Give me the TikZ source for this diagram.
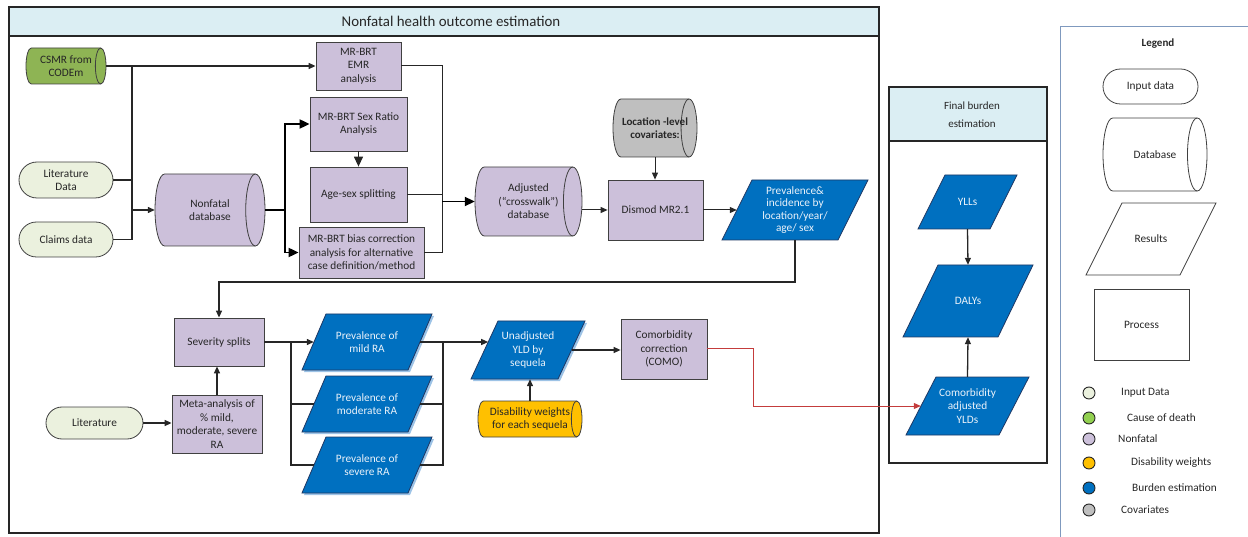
\documentclass[tikz,border=0pt]{standalone}
\usepackage{fontspec}
\setmainfont{Carlito}
\usetikzlibrary{arrows.meta,shapes.misc,calc}

\definecolor{hdr}{RGB}{219,238,243}
\definecolor{nonf}{RGB}{204,192,218}
\definecolor{inp}{RGB}{235,241,222}
\definecolor{csmrg}{RGB}{142,180,84}
\definecolor{legg}{RGB}{146,208,80}
\definecolor{burden}{RGB}{0,112,192}
\definecolor{dwc}{RGB}{255,192,0}
\definecolor{cov}{RGB}{191,191,191}
\definecolor{edgec}{RGB}{64,64,64}
\definecolor{redl}{RGB}{196,60,60}
\definecolor{shadowblue}{RGB}{157,195,230}
\definecolor{legframe}{RGB}{127,153,190}
\definecolor{navy}{RGB}{31,56,100}
\definecolor{txtc}{RGB}{38,38,38}
\definecolor{bluetext}{RGB}{235,242,250}

\tikzset{
  txt/.style={inner sep=0pt, align=center, text=txtc, font=\fontsize{11.3}{13.5}\selectfont},
  boldtxt/.style={font=\fontsize{11}{13.5}\selectfont\bfseries},
  bluetxt/.style={text=bluetext},
  shapeline/.style={draw=edgec, line width=0.8pt},
  proc/.style={txt, rectangle, draw=edgec, fill=nonf, line width=0.8pt},
  pill/.style={txt, rounded rectangle, draw=edgec, fill=inp, line width=0.8pt},
  blueshape/.style={fill=burden, draw=navy, line width=0.8pt},
  whiteshape/.style={fill=white, draw=edgec, line width=0.8pt},
  bshadow/.style={preaction={fill=shadowblue, draw=none, transform canvas={shift={(2pt,-2pt)}}}},
  frame/.style={draw=black!85, line width=1.1pt},
  conn/.style={draw=black!85, line width=1.3pt},
  thinc/.style={draw=black!85, line width=1pt},
  thickc/.style={draw=black, line width=1.9pt},
  redc/.style={draw=redl, line width=1pt},
  arr/.style={-{Triangle[length=7pt,width=6pt]}},
  bigarr/.style={-{Triangle[length=10pt,width=9pt]}},
  legdot/.style={circle, draw=black!85, line width=0.9pt, minimum size=12pt, inner sep=0pt},
  leglab/.style={txt, anchor=west},
}

% process box: [style]{name}{x0}{y0}{x1}{y1}{text}
\newcommand{\procnode}[7][]{%
  \pgfmathsetmacro{\pnW}{#5-#3}\pgfmathsetmacro{\pnH}{#6-#4}%
  \node[proc,#1,minimum width=\pnW pt,minimum height=\pnH pt] (#2) at ({(#3+#5)/2},{(#4+#6)/2}) {#7};}
% pill: [style]{name}{x0}{y0}{x1}{y1}{text}
\newcommand{\pillnode}[7][]{%
  \pgfmathsetmacro{\plW}{#5-#3}\pgfmathsetmacro{\plH}{#6-#4}%
  \node[pill,#1,minimum width=\plW pt,minimum height=\plH pt] (#2) at ({(#3+#5)/2},{(#4+#6)/2}) {#7};}
% cylinder: {name}{x0}{y0}{x1}{y1}{fill}{text style}{text}
\newcommand{\cylnode}[8]{%
  \pgfmathsetmacro{\cylH}{(#5-#3)/2}%
  \pgfmathsetmacro{\cylR}{0.12*(#5-#3)+1}%
  \pgfmathsetmacro{\cylA}{#2+\cylR}%
  \pgfmathsetmacro{\cylB}{#4-\cylR}%
  \pgfmathsetmacro{\cylW}{#4-#2}%
  \pgfmathsetmacro{\cylHH}{#5-#3}%
  \filldraw[shapeline, fill=#6] (\cylA,#3) -- (\cylB,#3)
     arc[start angle=90,end angle=-90,x radius=\cylR pt,y radius=\cylH pt]
     -- (\cylA,#5)
     arc[start angle=270,end angle=90,x radius=\cylR pt,y radius=\cylH pt] -- cycle;
  \draw[shapeline] (\cylB,#3) arc[start angle=90,end angle=270,x radius=\cylR pt,y radius=\cylH pt];
  \node[txt,#7,minimum width=\cylW pt,minimum height=\cylHH pt] (#1) at ({(#2+#4)/2},{(#3+#5)/2}) {#8};}
% parallelogram: {name}{x0}{y0}{x1}{y1}{slant}{shape style}{text style}{text}
\newcommand{\paranode}[9]{%
  \pgfmathsetmacro{\parA}{#2+#6}%
  \pgfmathsetmacro{\parB}{#4-#6}%
  \pgfmathsetmacro{\parW}{#4-#2-#6}%
  \pgfmathsetmacro{\parH}{#5-#3}%
  \filldraw[#7] (\parA,#3) -- (#4,#3) -- (\parB,#5) -- (#2,#5) -- cycle;
  \node[txt,#8,minimum width=\parW pt,minimum height=\parH pt] (#1) at ({(#2+#4)/2},{(#3+#5)/2}) {#9};}

\begin{document}
\begin{tikzpicture}[x=1pt,y=-1pt]
\useasboundingbox (0,0) rectangle (1248,537);

% ---------- frames ----------
\draw[frame, fill=hdr] (9,7) rectangle (879,36);
\draw[frame] (9,7) rectangle (879,533);
\node[txt, font=\fontsize{14.9}{17}\selectfont] (title) at (451,21.5) {Nonfatal health outcome estimation};

\draw[frame, fill=hdr] (889,87) rectangle (1047,141);
\draw[frame] (889,87) rectangle (1047,463);
\node[txt, font=\fontsize{11}{18}\selectfont] (fbtitle) at (972,115) {Final burden\\estimation};

\draw[draw=legframe, line width=1pt] (1060,537) -- (1060,27) -- (1248,27);

% ---------- upper part ----------
\cylnode{csmr}{26}{48}{106}{84}{csmrg}{}{CSMR from\\CODEm}
\pillnode{litdata}{19}{162}{113}{198}{Literature\\Data}
\pillnode{claims}{19}{222}{113}{257}{Claims data}
\cylnode{nonfatal}{155}{174}{265}{246}{nonf}{}{Nonfatal\\database}

\procnode{emr}{316}{42}{401}{90}{MR-BRT\\EMR\\analysis}
\procnode{sexratio}{310}{97}{407}{151}{MR-BRT Sex Ratio\\Analysis}
\procnode{agesex}{310}{167}{407}{222}{Age-sex splitting}
\procnode{bias}{299}{227}{424}{278}{MR-BRT bias correction\\analysis for alternative\\case definition/method}

\cylnode{adjusted}{475}{167}{582}{236}{nonf}{}{Adjusted\\(“crosswalk”)\\database}
\cylnode{location}{613}{99}{697}{157}{cov}{boldtxt}{Location -level\\covariates:}
\procnode{dismod}{608}{180}{703}{240}{Dismod MR2.1}
\paranode{prev}{722}{180}{868}{240}{30}{blueshape}{bluetxt,font=\fontsize{11.3}{12.5}\selectfont}{Prevalence\&\\incidence by\\location/year/\\age/ sex}

% ---------- lower part ----------
\procnode{severity}{174}{318}{264}{366}{Severity splits}
\procnode{meta}{172}{395}{262}{453}{Meta-analysis of\\\% mild,\\moderate, severe\\RA}
\pillnode{lit}{46}{407}{143}{439}{Literature}

\paranode{mild}{302}{314}{432}{370}{24}{blueshape,bshadow}{bluetxt}{Prevalence of\\mild RA}
\paranode{moderate}{302}{376}{432}{432}{24}{blueshape,bshadow}{bluetxt}{Prevalence of\\moderate RA}
\paranode{severe}{302}{437}{432}{493}{24}{blueshape,bshadow}{bluetxt}{Prevalence of\\severe RA}
\paranode{yld}{471}{321}{585}{379}{27}{blueshape,bshadow}{bluetxt}{Unadjusted\\YLD by\\sequela}
\cylnode{dw}{478}{401}{582}{437}{dwc}{}{Disability weights\\for each sequela}
\procnode{como}{621}{319}{707}{379}{Comorbidity\\correction\\(COMO)}

% ---------- final burden ----------
\paranode{ylls}{918}{175}{1017}{229}{27}{blueshape}{bluetxt}{YLLs}
\paranode{dalys}{903}{265}{1033}{337}{35}{blueshape}{bluetxt}{DALYs}
\paranode{cay}{906}{377}{1029}{435}{30}{blueshape}{bluetxt}{Comorbidity\\adjusted\\YLDs}

% ---------- legend ----------
\node[txt, boldtxt] (legtitle) at (1158,44) {Legend};
\pillnode[fill=white]{legin}{1103}{69}{1198}{104}{Input data}
\cylnode{legdb}{1103}{118}{1207}{191}{white}{}{Database}
\paranode{legres}{1086}{203}{1216}{275}{36}{whiteshape}{}{Results}
\procnode[fill=white]{legproc}{1094}{289}{1189}{360}{Process}

\node[legdot, fill=inp] (d1) at (1089,393) {};
\node[legdot, fill=legg] (d2) at (1089,418) {};
\node[legdot, fill=nonf] (d3) at (1089,439) {};
\node[legdot, fill=dwc] (d4) at (1089,463) {};
\node[legdot, fill=burden] (d5) at (1089,488) {};
\node[legdot, fill=cov] (d6) at (1089,510) {};
\node[leglab] (l1) at (1121,393) {Input Data};
\node[leglab] (l2) at (1127,418) {Cause of death};
\node[leglab] (l3) at (1118,439) {Nonfatal};
\node[leglab] (l4) at (1131,463) {Disability weights};
\node[leglab] (l5) at (1132,488) {Burden estimation};
\node[leglab] (l6) at (1121,510) {Covariates};

% ---------- connectors ----------
\coordinate (b1) at (132,0);
\draw[conn,arr] (csmr.east) -- (emr.west);
\draw[conn, line width=1.7pt] (b1 |- csmr.east) -- (b1 |- claims.east) -- (claims.east);
\draw[conn] (litdata.east) -- (b1 |- litdata.east);
\draw[conn,arr] (b1 |- nonfatal.west) -- (nonfatal.west);

\coordinate (b2) at (285,0);
\draw[thickc] (nonfatal.east) -- (b2 |- nonfatal.east);
\draw[thickc,bigarr] (b2 |- nonfatal.east) |- (sexratio.west);
\draw[thickc,bigarr] (b2 |- nonfatal.east) |- (bias.west);
\draw[conn,bigarr] (sexratio.south) -- (agesex.north);

\coordinate (b3) at (442,0);
\draw[thinc] (emr.east) -| (b3 |- adjusted.west);
\draw[thinc] (agesex.east) -- (b3 |- agesex.east);
\draw[thinc] (bias.east) -| (b3 |- adjusted.west);
\draw[thickc,bigarr] (b3 |- adjusted.west) -- (adjusted.west);

\draw[thinc,arr] (adjusted.east |- dismod.west) -- (dismod.west);
\draw[thinc,arr] (location.south) -- (location.south |- dismod.north);
\draw[thinc,arr] (dismod.east) -- (prev.west);

\coordinate (turn) at (0,282);
\draw[conn,arr] (prev.south) -- (prev.south |- turn) -| (severity.north);
\draw[conn,arr] (meta.north) -- (meta.north |- severity.south);
\draw[conn,arr] (lit.east) -- (lit.east -| meta.west);

\coordinate (b4) at (291,0);
\draw[conn] (severity.east) -- (b4 |- severity.east) -- (b4 |- severe.west) -- (severe.west);
\draw[conn] (b4 |- moderate.west) -- (moderate.west);
\draw[conn,arr] (b4 |- mild.west) -- (mild.west);

\coordinate (b5) at (443,0);
\draw[conn] (mild.east) -- (b5 |- mild.east) -- (b5 |- severe.east) -- (severe.east);
\draw[conn] (moderate.east) -- (b5 |- moderate.east);
\coordinate (yldin) at (488.2,342);
\draw[conn,arr] (b5 |- mild.east) -- (yldin);

\draw[conn,arr] (dw.north) -- (dw.north |- yld.south);
\draw[conn,arr] (yld.east) -- (yld.east -| como.west);

\coordinate (b6) at (753,0);
\draw[redc,arr] (como.east) -- (b6 |- como.east) |- (cay.west);

\draw[conn,arr] (ylls.south) -- (dalys.north);
\draw[conn,arr] (cay.north) -- (dalys.south);
\end{tikzpicture}
\end{document}
